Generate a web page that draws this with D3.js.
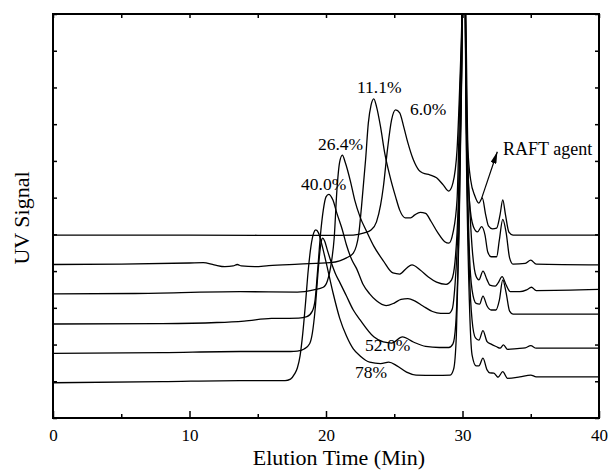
<!DOCTYPE html>
<html><head><meta charset="utf-8">
<script src="https://cdn.jsdelivr.net/npm/d3@7"></script>
<style>
body{margin:0;background:#fff}
svg{display:block}
text{font-family:"Liberation Serif","Times New Roman",serif;fill:#000}
</style>
</head><body>
<svg id="chart" width="611" height="470"></svg>
<script>
// ---- data ----
const xMajorTicks = [0, 10, 20, 30, 40];
const xMinorTicks = [5, 15, 25, 35];
const yTickValues = [0,1,2,3,4,5,6,7,8,9,10,11];
const seriesNames = ["6.0%", "11.1%", "26.4%", "40.0%", "52.0%", "78%"];

// [elution time (min), UV signal (a.u., stacked)]
const conv6_0 = [[0,4.98],[10,4.98],[20,4.97],[22,4.98],[22.8,5.04],[23.3,5.12],[23.7,5.34],[24.0,5.80],[24.2,6.29],[24.5,7.30],[24.8,8.11],[25.1,8.39],[25.4,8.31],[25.7,7.92],[26.0,7.49],[26.4,7.03],[26.8,6.75],[27.1,6.67],[27.6,6.62],[28.1,6.54],[28.6,6.34],[29.0,6.18],[29.3,6.40],[29.6,7.30],[29.8,9.07],[29.95,10.84],[30.1,14],[30.25,10.84],[30.4,7.30],[30.6,6.48],[30.9,6.05],[31.2,5.85],[31.45,5.99],[31.7,5.53],[31.9,5.23],[32.2,5.15],[32.5,5.17],[32.75,5.53],[32.95,5.94],[33.15,5.53],[33.4,5.06],[33.7,4.98],[40,4.98]];
const conv11_1 = [[0,4.18],[5,4.19],[10,4.22],[11,4.23],[11.8,4.17],[12.6,4.12],[13.2,4.14],[13.5,4.18],[13.8,4.14],[14.8,4.12],[15.8,4.15],[18,4.19],[20.3,4.23],[21.0,4.28],[21.5,4.36],[22.0,4.49],[22.4,5.01],[22.6,5.75],[22.9,7.03],[23.1,8.03],[23.3,8.52],[23.5,8.69],[23.7,8.48],[24.0,7.92],[24.3,7.22],[24.7,6.56],[25.1,6.02],[25.4,5.66],[25.8,5.45],[26.2,5.45],[26.5,5.53],[26.9,5.60],[27.3,5.57],[27.7,5.35],[28.2,5.04],[28.7,4.80],[29.0,4.76],[29.3,5.04],[29.6,5.94],[29.8,8.66],[29.95,10.57],[30.1,14],[30.3,8.66],[30.5,5.94],[30.8,5.21],[31.1,5.07],[31.4,5.21],[31.65,4.98],[31.85,4.52],[32.1,4.39],[32.5,4.39],[32.7,4.85],[32.95,5.41],[33.2,5.04],[33.45,4.36],[33.7,4.19],[34.6,4.21],[35.0,4.30],[35.4,4.19],[40,4.17]];
const conv26_4 = [[0,3.38],[6,3.39],[13.7,3.44],[17.9,3.43],[19.1,3.49],[19.8,3.56],[20.1,3.73],[20.4,4.25],[20.6,4.90],[20.8,6.21],[21.0,6.97],[21.2,7.16],[21.4,6.97],[21.8,6.43],[22.1,5.94],[22.5,5.47],[23.0,5.06],[23.5,4.68],[24.2,4.28],[24.9,3.95],[25.4,3.92],[25.9,4.08],[26.3,4.17],[26.9,4.03],[27.5,3.84],[28.1,3.70],[28.8,3.64],[29.2,3.76],[29.45,4.25],[29.7,5.94],[29.9,9.12],[30.1,14],[30.3,7.76],[30.5,5.94],[30.7,4.66],[31.0,3.85],[31.2,3.76],[31.5,4.00],[31.8,3.76],[32.0,3.62],[32.4,3.59],[32.6,3.67],[32.9,3.85],[33.2,3.62],[33.5,3.44],[34.2,3.44],[34.7,3.49],[35.05,3.56],[35.4,3.47],[40,3.50]];
const conv40_0 = [[0,2.56],[8,2.57],[12,2.60],[14,2.64],[16,2.71],[18,2.72],[18.6,2.76],[19.0,2.91],[19.2,3.21],[19.4,4.08],[19.6,5.01],[19.8,5.66],[20.0,6.02],[20.2,6.09],[20.5,5.94],[20.8,5.57],[21.2,5.12],[21.5,4.71],[21.9,4.30],[22.25,4.06],[22.7,3.65],[23.2,3.38],[23.7,3.19],[24.4,3.06],[25.0,3.13],[25.5,3.23],[26.0,3.25],[26.5,3.19],[27.1,3.05],[27.8,2.90],[28.4,2.85],[29.0,2.85],[29.25,2.97],[29.45,3.62],[29.7,5.47],[29.9,8.66],[30.1,14],[30.3,7.76],[30.5,4.57],[30.7,3.49],[31.0,3.12],[31.25,3.10],[31.5,3.32],[31.8,3.05],[32.1,2.94],[32.45,2.94],[32.7,3.21],[32.95,3.76],[33.2,3.40],[33.45,2.91],[33.7,2.83],[40,2.83]];
const conv52_0 = [[0,1.76],[8,1.78],[13.7,1.81],[17.4,1.81],[17.9,1.82],[18.4,1.88],[18.8,2.02],[19.0,2.31],[19.2,2.94],[19.4,3.89],[19.55,4.52],[19.68,4.85],[19.76,4.90],[19.9,4.82],[20.1,4.57],[20.4,4.22],[20.7,3.92],[21.0,3.70],[21.5,3.32],[22.0,2.94],[22.5,2.67],[23.5,2.21],[24.2,2.07],[24.8,2.04],[25.6,2.21],[26.4,2.07],[27.3,1.95],[28.3,1.92],[29.0,1.92],[29.3,2.02],[29.5,2.53],[29.75,5.39],[29.95,9.75],[30.1,14],[30.3,7.30],[30.5,4.03],[30.7,2.67],[30.95,2.18],[31.2,2.12],[31.5,2.38],[31.8,2.08],[32.1,2.01],[32.5,1.94],[32.75,1.90],[33.0,1.99],[33.3,1.87],[34.0,1.89],[34.6,1.91],[35.0,1.97],[35.4,1.90],[40,1.90]];
const conv78 = [[0,0.96],[8,0.99],[13.7,1.02],[17.0,1.02],[17.4,1.06],[17.7,1.20],[17.9,1.36],[18.1,1.69],[18.3,2.31],[18.5,3.13],[18.7,4.03],[18.9,4.68],[19.1,5.04],[19.25,5.12],[19.45,5.04],[19.65,4.79],[20.0,4.25],[20.5,3.43],[21.0,2.72],[21.5,2.23],[22.0,1.88],[22.5,1.69],[23.2,1.52],[24.0,1.48],[24.6,1.52],[25.2,1.42],[25.9,1.25],[26.6,1.17],[28.0,1.16],[29.1,1.17],[29.35,1.33],[29.55,2.26],[29.75,5.12],[29.95,9.48],[30.1,14],[30.3,6.75],[30.5,3.21],[30.7,1.72],[31.0,1.42],[31.2,1.42],[31.5,1.63],[31.8,1.31],[32.0,1.23],[32.3,1.22],[32.6,1.11],[32.95,1.26],[33.3,1.08],[34.2,1.12],[35.0,1.17],[35.4,1.12],[40,1.12]];
const seriesData = [conv6_0, conv11_1, conv26_4, conv40_0, conv52_0, conv78];

// ---- chart ----
const svg = d3.select("#chart");
const x = d3.scaleLinear().domain([0, 40]).range([53, 599]);
const y = d3.scaleLinear().domain([0, 11]).range([418, 14]);
const serif = '"Liberation Serif","Times New Roman",serif';

svg.append("clipPath").attr("id", "plotclip")
  .append("rect").attr("x", x(0)).attr("y", y(11)).attr("width", x(40) - x(0)).attr("height", y(0) - y(11));

const line = d3.line().x(d => x(d[0])).y(d => y(d[1])).curve(d3.curveMonotoneX);
const curves = svg.append("g").attr("clip-path", "url(#plotclip)");
seriesData.forEach(s => {
  curves.append("path").datum(s).attr("d", line)
    .attr("fill", "none").attr("stroke", "#000").attr("stroke-width", 1.3);
});

// inward ticks on all sides
function styleAxis(g){ g.select(".domain").remove(); g.selectAll("line").attr("stroke","#000").attr("stroke-width",1.5); }
svg.append("g").attr("transform", `translate(${x(0)},0)`)
  .call(d3.axisRight(y).tickValues(yTickValues).tickSize(4).tickFormat("")).call(styleAxis);
svg.append("g").attr("transform", `translate(${x(40)},0)`)
  .call(d3.axisLeft(y).tickValues(yTickValues).tickSize(4).tickFormat("")).call(styleAxis);
svg.append("g").attr("transform", `translate(0,${y(11)})`)
  .call(d3.axisBottom(x).tickValues(xMajorTicks.concat(xMinorTicks)).tickSize(4).tickFormat("")).call(styleAxis);
svg.append("g").attr("transform", `translate(0,${y(0)})`)
  .call(d3.axisTop(x).tickValues(xMajorTicks).tickSize(7).tickFormat("")).call(styleAxis);
svg.append("g").attr("transform", `translate(0,${y(0)})`)
  .call(d3.axisTop(x).tickValues(xMinorTicks).tickSize(4).tickFormat("")).call(styleAxis);

// tick labels
const xl = svg.append("g").attr("transform", `translate(0,${y(0)})`)
  .call(d3.axisBottom(x).tickValues(xMajorTicks).tickSize(0).tickPadding(11).tickFormat(d3.format("d")));
xl.attr("font-family", serif);
xl.select(".domain").remove();
xl.selectAll("text").style("font-family", serif).style("font-size", "17px").attr("fill", "#000");

// frame
svg.append("rect").attr("x", x(0)).attr("y", y(11)).attr("width", x(40) - x(0)).attr("height", y(0) - y(11))
  .attr("fill", "none").attr("stroke", "#000").attr("stroke-width", 2);

// axis titles
svg.append("text").attr("x", x(20.95)).attr("y", 465).attr("text-anchor", "middle")
  .style("font-family", serif).style("font-size", "22px").text("Elution Time (Min)");
svg.append("text").attr("transform", `translate(29,${(y(0) + y(11)) / 2 + 2}) rotate(-90)`).attr("text-anchor", "middle")
  .style("font-family", serif).style("font-size", "22px").text("UV Signal");

// series labels (anchored in data coordinates)
const labelAnchors = [[26.15, 8.25], [22.27, 8.85], [19.41, 7.30], [18.17, 6.21], [22.86, 1.82], [22.12, 1.09]];
seriesNames.forEach((n, i) => {
  svg.append("text").attr("x", x(labelAnchors[i][0])).attr("y", y(labelAnchors[i][1]))
    .style("font-family", serif).style("font-size", "17.5px").text(n);
});

// RAFT agent annotation
svg.append("defs").append("marker").attr("id", "ah").attr("viewBox", "0 0 12 6")
  .attr("refX", 12).attr("refY", 3).attr("markerWidth", 12).attr("markerHeight", 6)
  .attr("markerUnits", "userSpaceOnUse").attr("orient", "auto")
  .append("path").attr("d", "M0,0 L12,3 L0,6 z").attr("fill", "#000");
svg.append("line").attr("x1", x(31.40)).attr("y1", y(5.98)).attr("x2", x(32.55)).attr("y2", y(7.25))
  .attr("stroke", "#000").attr("stroke-width", 1.2).attr("marker-end", "url(#ah)");
svg.append("text").attr("x", x(32.97)).attr("y", y(7.16))
  .style("font-family", serif).style("font-size", "18px").text("RAFT agent");
</script>
</body></html>
